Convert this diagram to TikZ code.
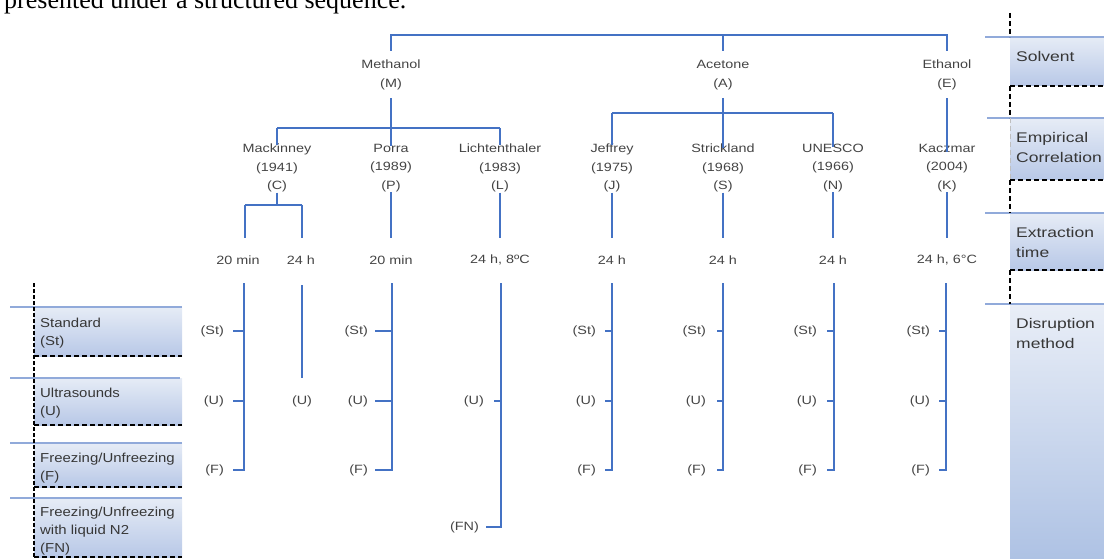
\documentclass[tikz,border=0pt]{standalone}
\usepackage{fontspec}
\newfontfamily\treef[FakeStretch=1.2]{Liberation Sans}
\newfontfamily\boxf[FakeStretch=1.25]{Liberation Sans}
\newfontfamily\lboxf[FakeStretch=1.15]{Liberation Sans}
\newfontfamily\serf{Liberation Serif}
\definecolor{treeblue}{RGB}{68,114,196}
\definecolor{capblue}{RGB}{145,170,218}
\definecolor{boxtop}{RGB}{230,236,246}
\definecolor{boxbot}{RGB}{184,200,231}
\definecolor{distop}{RGB}{233,238,247}
\definecolor{disbot}{RGB}{174,194,228}
\definecolor{txtgray}{RGB}{68,68,68}
\definecolor{boxtxt}{RGB}{55,55,55}
\newcommand{\dgrp}[4]{%
  \node[lab,anchor=east] (#1St) at (#3,331) {(St)};
  \node[lab,anchor=east] (#1U) at (#3,401) {(U)};
  \node[lab,anchor=east] (#1F) at (#3,470) {(F)};
  \coordinate (#1top) at (#2,283);
  \draw[tree] (#1top) |- ([xshift=#4pt]#1F.east);
  \draw[tree] ([xshift=#4pt]#1St.east) -- (#1St.east -| #1top);
  \draw[tree] ([xshift=#4pt]#1U.east) -- (#1U.east -| #1top);
}
\begin{document}
\begin{tikzpicture}[x=1pt,y=-1pt,
  tree/.style={draw=treeblue,line width=2pt},
  ttext/.style={font=\treef\fontsize{12}{18.75}\selectfont,text=txtgray,align=center,inner sep=0pt},
  lab/.style={font=\treef\fontsize{12}{14}\selectfont,text=txtgray,inner sep=0pt},
  capline/.style={draw=capblue,line width=2.5pt},
  dashline/.style={draw=black,line width=1.3pt,dash pattern=on 5pt off 3pt},
  rtext/.style={font=\boxf\fontsize{14}{20}\selectfont,text=boxtxt,align=left,inner sep=0pt,anchor=west},
  ltext/.style={font=\lboxf\fontsize{13}{18}\selectfont,text=boxtxt,align=left,inner sep=0pt,anchor=west},
]
\useasboundingbox (0,0) rectangle (1104,559);

% caption fragment
\node[anchor=base west,inner sep=0pt,font=\serf\fontsize{26}{26}\selectfont,text=black] (cap) at (4,8.5) {presented under a structured sequence.};

% ---------- right side panel ----------
\shade[top color=boxtop,bottom color=boxbot] (1010,37) rectangle (1104,86);
\shade[top color=boxtop,bottom color=boxbot] (1010,118) rectangle (1104,180);
\shade[top color=boxtop,bottom color=boxbot] (1010,213) rectangle (1104,270);
\shade[top color=distop,bottom color=disbot] (1010,304) rectangle (1104,559);
\draw[capline] (985,37) -- (1104,37);
\draw[capline] (987,118) -- (1104,118);
\draw[capline] (985,213) -- (1104,213);
\draw[capline] (985,304) -- (1104,304);
\draw[dashline] (1010,86) -- (1104,86);
\draw[dashline] (1010,180) -- (1104,180);
\draw[dashline] (1010,270) -- (1104,270);
\draw[dashline] (1010,13) -- (1010,37);
\draw[dashline] (1010,86) -- (1010,118);
\draw[dashline] (1010,180) -- (1010,213);
\draw[dashline] (1010,270) -- (1010,304);
\draw[dashline,draw=black!25,line width=0.8pt] (1010,118) -- (1010,180);
\node[rtext] (rsol) at (1016,56) {Solvent};
\node[rtext] (remp) at (1016,147) {Empirical\\Correlation};
\node[rtext] (rext) at (1016,242) {Extraction\\time};
\node[rtext] (rdis) at (1016,333) {Disruption\\method};

% ---------- left side panel ----------
\shade[top color=boxtop,bottom color=boxbot] (34,307) rectangle (182,356);
\shade[top color=boxtop,bottom color=boxbot] (34,378) rectangle (182,425);
\shade[top color=boxtop,bottom color=boxbot] (34,443) rectangle (182,487);
\shade[top color=boxtop,bottom color=boxbot] (34,498) rectangle (182,557);
\draw[capline] (10,307) -- (182,307);
\draw[capline] (10,378) -- (180,378);
\draw[capline] (10,443) -- (182,443);
\draw[capline] (10,498) -- (182,498);
\draw[dashline] (34,356) -- (182,356);
\draw[dashline] (34,425) -- (182,425);
\draw[dashline] (34,487) -- (182,487);
\draw[dashline] (34,557) -- (182,557);
\draw[dashline,line width=1.1pt,dash pattern=on 4pt off 2pt] (34,283) -- (34,559);
\node[ltext] (lst) at (40,333.5) {Standard\\(St)};
\node[ltext] (lus) at (40,403.5) {Ultrasounds\\(U)};
\node[ltext] (lfr) at (40,468.5) {Freezing/Unfreezing\\(F)};
\node[ltext] (lfn) at (40,531) {Freezing/Unfreezing\\with liquid N2\\(FN)};

% ---------- tree: solvents ----------
\coordinate (bus) at (0,35);
\node[ttext] (M) at (391,75) {Methanol\\(M)};
\node[ttext] (A) at (723,75) {Acetone\\(A)};
\node[ttext] (E) at (947,75) {Ethanol\\(E)};
\draw[tree,shorten <=9pt,shorten >=9pt] (M.north) -- (M.north |- bus) -- (E.north |- bus) -- (E.north);
\draw[tree,shorten >=9pt] (A.north |- bus) -- (A.north);

% ---------- tree: empirical correlations ----------
\node[ttext] (C) at (277,168) {Mackinney\\(1941)\\(C)};
\node[ttext] (P) at (391,168) {Porra\\(1989)\\(P)};
\node[ttext] (L) at (500,168) {Lichtenthaler\\(1983)\\(L)};
\node[ttext] (J) at (612,168) {Jeffrey\\(1975)\\(J)};
\node[ttext] (S) at (723,168) {Strickland\\(1968)\\(S)};
\node[ttext] (N) at (833,168) {UNESCO\\(1966)\\(N)};
\node[ttext] (K) at (947,168) {Kaczmar\\(2004)\\(K)};

\coordinate (mbar) at (0,128);
\coordinate (abar) at (0,113);
\draw[tree,shorten <=8pt] (M.south) -- (M.south |- mbar);
\draw[tree] (C.north |- mbar) -- (L.north |- mbar);
\draw[tree,shorten >=-2pt] (C.north |- mbar) -- (C.north);
\draw[tree,shorten >=-2pt] (P.north |- mbar) -- (P.north);
\draw[tree,shorten >=-2pt] (L.north |- mbar) -- (L.north);
\draw[tree,shorten <=8pt] (A.south) -- (A.south |- abar);
\draw[tree] (J.north |- abar) -- (N.north |- abar);
\draw[tree,shorten >=-2pt] (J.north |- abar) -- (J.north);
\draw[tree,shorten >=-5pt] (S.north |- abar) -- (S.north);
\draw[tree,shorten >=-3pt] (N.north |- abar) -- (N.north);
\draw[tree,shorten <=8pt,shorten >=-8pt] (E.south) -- (K.north);

% ---------- tree: extraction time ----------
\node[lab] (T1) at (238,260) {20 min};
\node[lab] (T2) at (301,260) {24 h};
\node[lab] (TP) at (391,260) {20 min};
\node[lab] (TL) at (500,260) {24 h, 8ºC};
\node[lab] (TJ) at (612,260) {24 h};
\node[lab] (TS) at (723,260) {24 h};
\node[lab] (TN) at (833,260) {24 h};
\node[lab] (TK) at (947,260) {24 h, 6°C};

\coordinate (c1) at (245,205);
\coordinate (c2) at (302,205);
\draw[tree] (C.south) -- (C.south |- c1);
\draw[tree] (c1) -- (c2);
\draw[tree,shorten >=17pt] (c1) -- (c1 |- T1.north);
\draw[tree,shorten >=17pt] (c2) -- (c2 |- T2.north);
\draw[tree,shorten >=17pt] (P.south) -- (P.south |- TP.north);
\draw[tree,shorten >=17pt] (L.south) -- (L.south |- TL.north);
\draw[tree,shorten >=17pt] (J.south) -- (J.south |- TJ.north);
\draw[tree,shorten >=17pt] (S.south) -- (S.south |- TS.north);
\draw[tree,shorten >=17pt] (N.south) -- (N.south |- TN.north);
\draw[tree,shorten >=17pt] (K.south) -- (K.south |- TK.north);

% ---------- tree: disruption methods ----------
\dgrp{C}{244}{224}{9}
\dgrp{P}{392}{368}{7}
\dgrp{J}{612}{596}{9}
\dgrp{S}{723}{706}{11}
\dgrp{N}{834}{817}{10}
\dgrp{K}{946}{930}{9}

\coordinate (c24top) at (302,285);
\node[lab] (c24U) at (302,401) {(U)};
\draw[tree,shorten >=17pt] (c24top) -- (c24U.north);

\coordinate (Ltop) at (501,283);
\node[lab,anchor=east] (LU) at (484,401) {(U)};
\node[lab,anchor=east] (LFN) at (479,527) {(FN)};
\draw[tree] (Ltop) |- ([xshift=7pt]LFN.east);
\draw[tree] ([xshift=10pt]LU.east) -- (LU.east -| Ltop);
\end{tikzpicture}
\end{document}
